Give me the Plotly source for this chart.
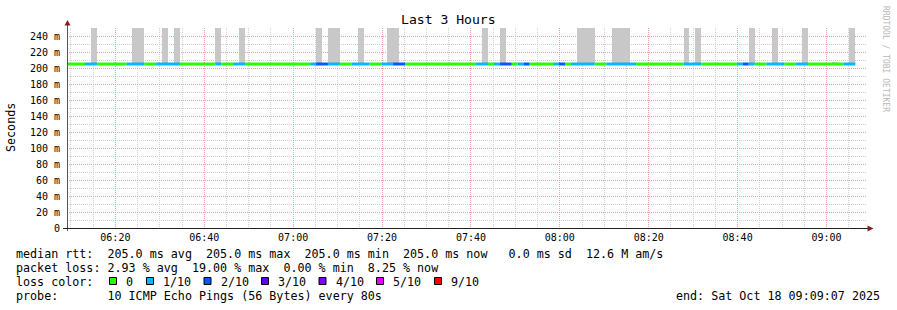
import plotly.graph_objects as go
from datetime import datetime, timedelta

# ---------------- data ----------------
title_text = "Last 3 Hours"
window_start = "2025-10-18 06:09:07"
window_end = "2025-10-18 09:09:07"
first_step = "2025-10-18 06:09:10"
step_seconds = 80
median_rtt_ms = 205.0

loss_labels = ["0", "1/10", "2/10", "3/10", "4/10", "5/10", "9/10"]
loss_colors = ["#26ff00", "#00b8ff", "#0059ff", "#5e00ff", "#7e00ff", "#dd00ff", "#ff0000"]

# consecutive runs of steps: (loss level index, number of 80 s steps)
loss_runs = [(0, 3), (1, 2), (0, 5), (1, 3), (0, 2), (1, 4), (0, 6), (1, 1), (0, 2), (1, 2),
             (0, 11), (1, 1), (2, 2), (1, 2), (0, 2), (1, 3), (0, 2), (1, 2), (2, 2), (0, 12),
             (1, 2), (0, 1), (1, 1), (2, 2), (0, 1), (1, 1), (2, 1), (0, 4), (1, 1), (2, 1),
             (0, 1), (1, 4), (0, 2), (1, 5), (0, 8), (1, 3), (0, 6), (1, 1), (2, 1), (1, 1),
             (0, 2), (1, 3), (0, 2), (1, 2), (0, 6), (1, 2)]

# smoke (ping spread) per step index: top value in ms
smoke_steps = [4, 11, 12, 16, 18, 25, 29, 42, 44, 45, 49, 54, 55, 70, 73, 86, 87, 88,
               92, 93, 94, 104, 106, 115, 119, 124, 129, 132]
smoke_top_ms = [250, 250, 250, 250, 250, 250, 250, 250, 250, 250, 250, 250, 250, 250, 250, 250, 250, 250,
                250, 250, 250, 250, 250, 250, 250, 250, 207.5, 250]

y_tick_vals = [0, 20, 40, 60, 80, 100, 120, 140, 160, 180, 200, 220, 240]
y_tick_text = ["0", "20 m", "40 m", "60 m", "80 m", "100 m", "120 m", "140 m", "160 m",
               "180 m", "200 m", "220 m", "240 m"]

legend_rtt = "median rtt:  205.0 ms avg  205.0 ms max  205.0 ms min  205.0 ms now   0.0 ms sd  12.6 M am/s"
legend_loss = "packet loss: 2.93 % avg  19.00 % max  0.00 % min  8.25 % now"
legend_probe = "probe:       10 ICMP Echo Pings (56 Bytes) every 80s"
legend_end = "end: Sat Oct 18 09:09:07 2025"

# ---------------- geometry ----------------
W, H = 897, 310
L, R, T, B = 67, 867, 28, 228
MONO = "DejaVu Sans Mono"


def px(x):
    return (x - L) / (R - L)


def py(y):
    return (B - y) / (B - T)


def nb(s):
    return s.replace(" ", "\u00a0")


fmt = "%Y-%m-%d %H:%M:%S"
t0 = datetime.strptime(first_step, fmt)
step = timedelta(seconds=step_seconds)

fig = go.Figure()

# smoke bars
fig.add_trace(go.Bar(
    x=[t0 + step * i + step / 2 for i in smoke_steps],
    y=[v - median_rtt_ms for v in smoke_top_ms],
    base=[median_rtt_ms] * len(smoke_steps),
    width=step_seconds * 1000,
    marker=dict(color="#c8c8c8", line=dict(width=0)),
    showlegend=False, hoverinfo="skip",
))

# median line coloured by loss
seg = {i: ([], []) for i in range(len(loss_colors))}
idx = 0
for lvl, n in loss_runs:
    xs, ys = seg[lvl]
    xs += [t0 + step * idx, t0 + step * (idx + n), None]
    ys += [median_rtt_ms, median_rtt_ms, None]
    idx += n
for lvl, (xs, ys) in seg.items():
    if xs:
        fig.add_trace(go.Scatter(x=xs, y=ys, mode="lines",
                                 line=dict(color=loss_colors[lvl], width=3),
                                 showlegend=False, hoverinfo="skip", connectgaps=False))

minor_grid = "#cfcfcf"
major_grid = "#f0a0a0"

fig.update_layout(
    width=W, height=H,
    margin=dict(l=L, r=W - R, t=T, b=H - B, pad=0),
    paper_bgcolor="white", plot_bgcolor="white",
    barmode="overlay", bargap=0,
    font=dict(family=MONO, size=10, color="black"),
    xaxis=dict(
        type="date", range=[window_start, window_end],
        tick0="2025-10-18 06:00:00", dtick=20 * 60 * 1000, tickformat="%H:%M",
        showgrid=True, gridcolor=major_grid, griddash="1px,1px", gridwidth=1,
        minor=dict(tick0="2025-10-18 06:00:00", dtick=5 * 60 * 1000, showgrid=True,
                   gridcolor=minor_grid, griddash="1px,1px", ticks=""),
        showline=False, zeroline=False, ticks="",
        tickfont=dict(family=MONO, size=10), ticklabelstandoff=2,
    ),
    yaxis=dict(
        range=[0, 250], tickmode="array", tickvals=y_tick_vals, ticktext=y_tick_text,
        showgrid=True, gridcolor=major_grid, griddash="1px,1px", gridwidth=1,
        minor=dict(tick0=0, dtick=10, showgrid=True, gridcolor=minor_grid,
                   griddash="1px,1px", ticks=""),
        showline=False, zeroline=False, ticks="",
        tickfont=dict(family=MONO, size=10), ticklabelstandoff=6,
    ),
)

shapes = []
# axes lines
shapes.append(dict(type="line", xref="paper", yref="paper",
                   x0=px(67.5), x1=px(67.5), y0=py(231), y1=py(24),
                   line=dict(color="#555555", width=1)))
shapes.append(dict(type="line", xref="paper", yref="paper",
                   x0=px(63), x1=px(868), y0=py(228.5), y1=py(228.5),
                   line=dict(color="#222222", width=1)))
# arrows
arrow_col = "#8b1c1c"
shapes.append(dict(type="path", xref="paper", yref="paper",
                   path=f"M {px(64.5)} {py(25.5)} L {px(67.5)} {py(20)} L {px(70.5)} {py(25.5)} Z",
                   fillcolor=arrow_col, line=dict(color=arrow_col, width=0)))
shapes.append(dict(type="path", xref="paper", yref="paper",
                   path=f"M {px(867.5)} {py(225.5)} L {px(873.5)} {py(228.5)} L {px(867.5)} {py(231.5)} Z",
                   fillcolor=arrow_col, line=dict(color=arrow_col, width=0)))

# loss colour legend boxes
box_x = [109.5, 146.5, 204, 261.5, 319, 376.5, 434.5]
for bx, col in zip(box_x, loss_colors):
    shapes.append(dict(type="rect", xref="paper", yref="paper",
                       x0=px(bx), x1=px(bx + 7), y0=py(277.5), y1=py(284.5),
                       fillcolor=col, line=dict(color="black", width=1)))
fig.update_layout(shapes=shapes)

ann = []
LEG = 11.7
ann.append(dict(text=nb(title_text), x=px(448), y=py(19), xref="paper", yref="paper",
                showarrow=False, xanchor="center", yanchor="middle",
                font=dict(family=MONO, size=13.1, color="black")))
ann.append(dict(text="Seconds", x=px(11), y=py(127), xref="paper", yref="paper",
                showarrow=False, xanchor="center", yanchor="middle", textangle=-90,
                font=dict(family=MONO, size=LEG, color="black")))
ann.append(dict(text=nb("RRDTOOL / TOBI OETIKER"), x=px(886), y=py(59), xref="paper", yref="paper",
                showarrow=False, xanchor="center", yanchor="middle", textangle=90,
                font=dict(family=MONO, size=8, color="#b8b8b8")))
for txt, yy in [(legend_rtt, 254), (legend_loss, 268), ("loss color:", 282), (legend_probe, 296)]:
    ann.append(dict(text=nb(txt), x=px(14), y=py(yy), xref="paper", yref="paper",
                    showarrow=False, xanchor="left", yanchor="middle",
                    font=dict(family=MONO, size=LEG, color="black")))
for bx, lab in zip(box_x, loss_labels):
    ann.append(dict(text=lab, x=px(bx + 14.5), y=py(282), xref="paper", yref="paper",
                    showarrow=False, xanchor="left", yanchor="middle",
                    font=dict(family=MONO, size=LEG, color="black")))
ann.append(dict(text=nb(legend_end), x=px(882), y=py(296), xref="paper", yref="paper",
                showarrow=False, xanchor="right", yanchor="middle",
                font=dict(family=MONO, size=LEG, color="black")))
fig.update_layout(annotations=ann)

fig.write_html("out.html")
